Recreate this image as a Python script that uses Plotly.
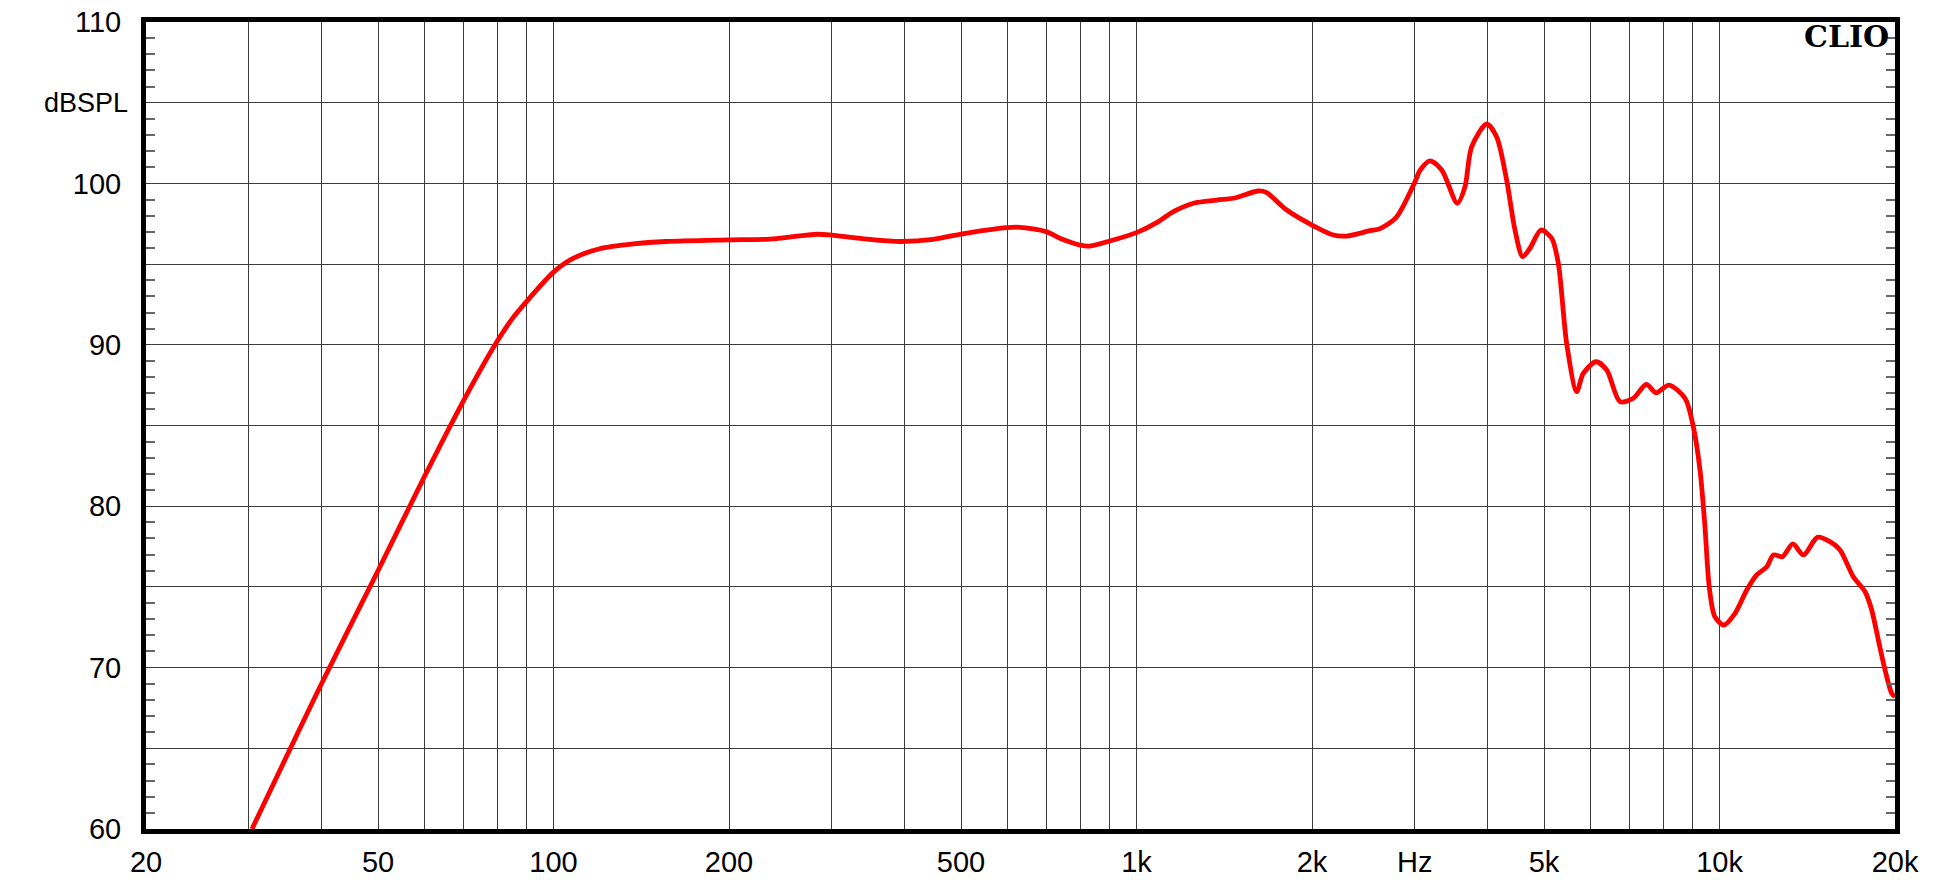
import plotly.graph_objects as go

# frequency response
freq_hz = [30.4, 40, 50, 60, 70, 80, 85.3, 90, 100, 108, 120, 137, 156, 200, 235, 283, 300,
           345, 393, 448, 500, 600, 631, 700, 739, 800, 832, 900, 1000, 1083, 1157, 1252,
           1373, 1466, 1618, 1672, 1810, 2000, 2176, 2293, 2515, 2616, 2790, 3000, 3064,
           3187, 3339, 3551, 3660, 3757, 3988, 4146, 4314, 4459, 4596, 4730, 4940, 5154,
           5291, 5468, 5689, 5839, 6140, 6406, 6752, 7116, 7490, 7783, 8190, 8727, 9017,
           9259, 9442, 9602, 9820, 10180, 10633, 11137, 11584, 12055, 12377, 12824, 13360,
           13935, 14720, 15470, 16096, 16965, 17772, 18241, 18727, 19230, 19738, 20000]
spl_db = [60.0, 69.0, 76.0, 81.8, 86.5, 90.2, 91.7, 92.7, 94.5, 95.35, 95.95, 96.25, 96.4,
          96.5, 96.55, 96.85, 96.8, 96.55, 96.4, 96.53, 96.86, 97.26, 97.28, 97.01, 96.6,
          96.18, 96.12, 96.43, 96.95, 97.57, 98.25, 98.77, 98.97, 99.08, 99.53, 99.43,
          98.35, 97.42, 96.8, 96.74, 97.07, 97.2, 97.9, 100.05, 100.8, 101.4, 100.83,
          98.77, 99.8, 102.27, 103.68, 102.89, 100.21, 97.11, 95.46, 95.98, 97.11, 96.6,
          95.05, 90.09, 87.1, 88.23, 88.95, 88.44, 86.48, 86.69, 87.55, 87.03, 87.5, 86.69,
          84.93, 82.24, 78.73, 75.01, 73.15, 72.64, 73.36, 74.81, 75.74, 76.25, 76.98,
          76.87, 77.66, 76.98, 78.07, 77.8, 77.29, 75.63, 74.7, 73.57, 71.71, 69.85, 68.41,
          68.2]

x_tickvals = [20, 30, 40, 50, 60, 70, 80, 90,
              100, 200, 300, 400, 500, 600, 700, 800, 900,
              1000, 2000, 3000, 4000, 5000, 6000, 7000, 8000, 9000,
              10000, 20000]
x_ticktext = ["20", "", "", "50", "", "", "", "",
              "100", "200", "", "", "500", "", "", "", "",
              "1k", "2k", "Hz", "", "5k", "", "", "", "",
              "10k", "20k"]
y_label_alias = {"65": "", "75": "", "85": "", "95": "", "105": ""}

fig = go.Figure()
fig.add_trace(go.Scatter(
    x=freq_hz, y=spl_db, mode="lines",
    line=dict(color="#ff0000", width=4.8, shape="spline", smoothing=0.8),
    showlegend=False, hoverinfo="skip"
))

grid = "#3c3c3c"
label_font = dict(family="Liberation Sans, Arial", size=29, color="black")

fig.update_xaxes(
    type="log", range=[1.30103, 4.30103],
    tickmode="array", tickvals=x_tickvals, ticktext=x_ticktext,
    showgrid=True, gridcolor=grid, gridwidth=1,
    showline=True, linecolor="black", linewidth=5, mirror=True,
    ticks="", ticklabelstandoff=3, automargin=False,
    tickfont=label_font, zeroline=False
)
fig.update_yaxes(
    range=[60, 110], tickmode="linear", tick0=60, dtick=5,
    labelalias=y_label_alias,
    showgrid=True, gridcolor=grid, gridwidth=1,
    showline=True, linecolor="black", linewidth=5, mirror="ticks",
    ticks="", ticklabelstandoff=14, automargin=False,
    minor=dict(dtick=1, ticks="inside", ticklen=9, tickwidth=1.5, tickcolor="#666", showgrid=False),
    tickfont=label_font, zeroline=False
)

fig.add_annotation(text="dBSPL", xref="paper", yref="y", x=0, y=105, xanchor="right",
                   xshift=-16, showarrow=False,
                   font=dict(family="Liberation Sans, Arial", size=27, color="black"))
fig.add_annotation(text="<b>CLIO</b>", xref="paper", yref="paper", x=1, y=1,
                   xanchor="right", yanchor="top", xshift=-4, yshift=5, showarrow=False,
                   font=dict(family="DejaVu Serif, Times New Roman", size=30, color="black"))

fig.update_layout(
    width=1942, height=880,
    margin=dict(l=146, r=47, t=22, b=51),
    paper_bgcolor="white", plot_bgcolor="white"
)

fig.write_html("out.html", config={"displayModeBar": False},
               post_script="document.body.style.margin='0';")
